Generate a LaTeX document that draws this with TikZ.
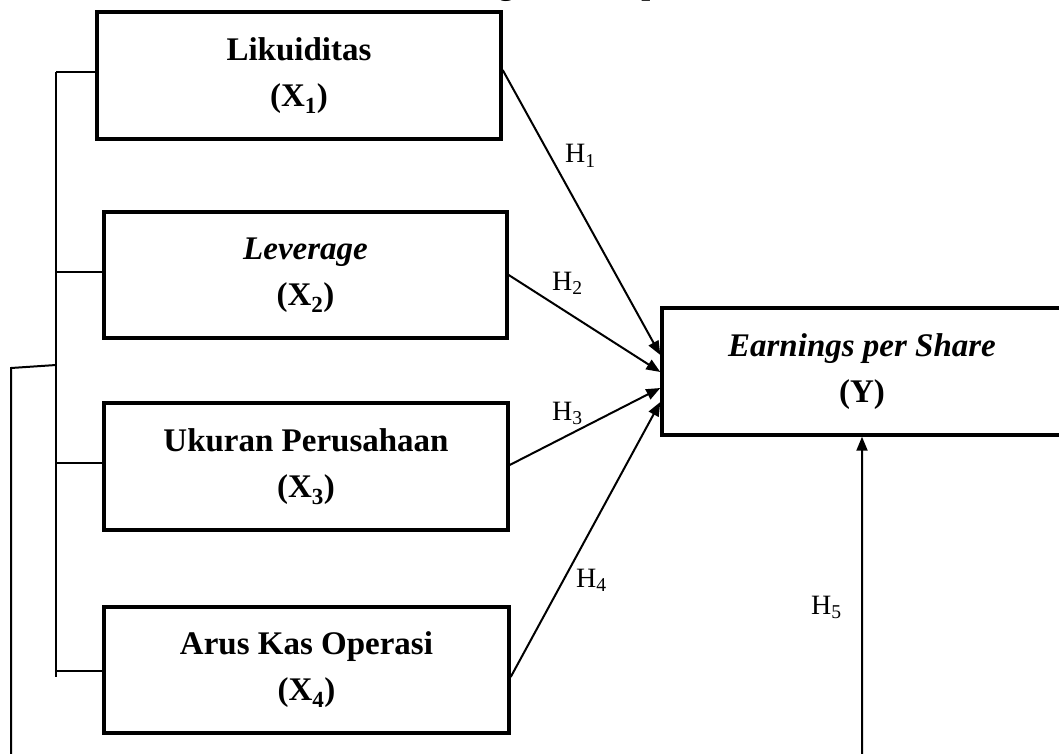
\documentclass[tikz,border=0pt]{standalone}
\usepackage{fontspec}
\setmainfont{Liberation Serif}
\usetikzlibrary{arrows.meta,calc}
\begin{document}
\begin{tikzpicture}[x=1pt,y=-1pt,
  box/.style={draw, line width=3.4pt, align=center, inner sep=0pt,
    font=\bfseries\fontsize{33}{46}\selectfont},
  link/.style={line width=2pt},
  arr/.style={line width=2pt, -{Triangle[length=14pt,width=11pt]}},
  hyp/.style={anchor=base west, inner sep=0pt, font=\fontsize{28}{30}\selectfont}]
\useasboundingbox (0,0) rectangle (1059,754);
\clip (0,0) rectangle (1059,754);

\node[anchor=base west, inner sep=0pt, font=\bfseries\fontsize{32}{36}\selectfont] (title) at (411,-5) {Kerangka Konseptual};

\node[box, minimum width=404pt, minimum height=127pt] (X1) at (299,75.5) {Likuiditas\\(X\textsubscript{1})};
\node[box, minimum width=403pt, minimum height=126pt] (X2) at (305.5,275) {\textit{Leverage}\\(X\textsubscript{2})};
\node[box, minimum width=404pt, minimum height=127pt] (X3) at (306,466.5) {Ukuran Perusahaan\\(X\textsubscript{3})};
\node[box, minimum width=405pt, minimum height=126pt] (X4) at (306.5,670) {Arus Kas Operasi\\(X\textsubscript{4})};
\node[box, minimum width=400pt, minimum height=127pt] (Y) at (862,371.5) {\textit{Earnings per Share}\\(Y)};

% left bracket
\coordinate (b1) at (56,72);
\coordinate (b2) at (56,272);
\coordinate (b3) at (56,463);
\coordinate (b4) at (56,671);
\coordinate (bend) at (56,365);
\coordinate (bot) at (56,677);
\coordinate (o1) at (11,368);
\coordinate (o2) at (11,775);
\coordinate (o3) at (862,775);
\draw[link] (b1) -- (bot);
\draw[link] (b1) -- (b1 -| X1.west);
\draw[link] (b2) -- (b2 -| X2.west);
\draw[link] (b3) -- (b3 -| X3.west);
\draw[link] (b4) -- (b4 -| X4.west);

% arrows to Y
\draw[arr] ([yshift=5.5pt]X1.east) -- ([yshift=16.5pt]Y.west);
\draw[arr] (X2.east) -- ([yshift=-0.5pt]Y.west);
\draw[arr] ([yshift=1.5pt]X3.east) -- ([yshift=-16.5pt]Y.west);
\draw[arr] ([yshift=-7pt]X4.east) -- ([yshift=-30.5pt]Y.west);
\draw[arr] (bend) -- (o1) -- (o2) -- (o3) -- (Y.south);

% hypothesis labels
\node[hyp] (h1) at (565,163) {H\textsubscript{1}};
\node[hyp] (h2) at (552,290) {H\textsubscript{2}};
\node[hyp] (h3) at (552,420) {H\textsubscript{3}};
\node[hyp] (h4) at (576,587) {H\textsubscript{4}};
\node[hyp] (h5) at (811,614) {H\textsubscript{5}};
\end{tikzpicture}
\end{document}
